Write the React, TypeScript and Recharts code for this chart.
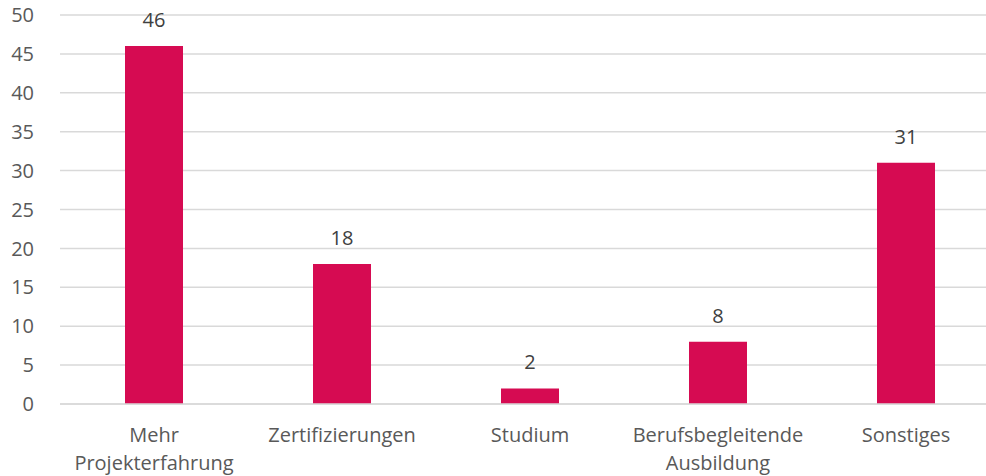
import React from "react";
import { BarChart, Bar, XAxis, YAxis, CartesianGrid, LabelList } from "recharts";

const categories = ["Mehr Projekterfahrung", "Zertifizierungen", "Studium", "Berufsbegleitende Ausbildung", "Sonstiges"];
const values = [46, 18, 2, 8, 31];
const yTicks = [0, 5, 10, 15, 20, 25, 30, 35, 40, 45, 50];

const data = categories.map((c, i) => ({ name: c, value: values[i] }));

const FONT = "'Open Sans', sans-serif";

function wrap(s: string, maxChars: number): string[] {
  const words = s.split(" ");
  const lines: string[] = [];
  let cur = "";
  for (const w of words) {
    const cand = cur ? cur + " " + w : w;
    if (cand.length > maxChars && cur) {
      lines.push(cur);
      cur = w;
    } else cur = cand;
  }
  if (cur) lines.push(cur);
  return lines;
}

const XTick = (props: any) => {
  const { x, y, payload } = props;
  const lines = wrap(String(payload.value), 17);
  return (
    <text x={x} y={y} textAnchor="middle" fontSize={20} fontFamily={FONT} fill="#595959">
      {lines.map((l, i) => (
        <tspan key={i} x={x} y={y + 30 + i * 28}>
          {l}
        </tspan>
      ))}
    </text>
  );
};

export default function App() {
  return (
    <div style={{ position: "absolute", left: 0, top: 0, width: 986, height: 476, overflow: "hidden", background: "#fff" }}>
      <BarChart width={1000} height={476} data={data} margin={{ top: 15, right: 0, bottom: 0, left: 0 }}>
        <CartesianGrid vertical={false} stroke="#d9d9d9" strokeWidth={1.5} />
        <XAxis
          dataKey="name"
          axisLine={{ stroke: "#d9d9d9", strokeWidth: 1.5 }}
          tickLine={false}
          tick={<XTick />}
          interval={0}
          height={72}
        />
        <YAxis
          domain={[0, 50]}
          ticks={yTicks}
          axisLine={false}
          tickLine={false}
          width={60}
          tickMargin={20}
          tick={{ fontSize: 20, fontFamily: FONT, fill: "#595959" }}
        />
        <Bar dataKey="value" fill="#d60b52" barSize={58} isAnimationActive={false}>
          <LabelList dataKey="value" position="top" offset={19} style={{ fontSize: 20, fontFamily: FONT, fill: "#404040" }} />
        </Bar>
      </BarChart>
    </div>
  );
}
